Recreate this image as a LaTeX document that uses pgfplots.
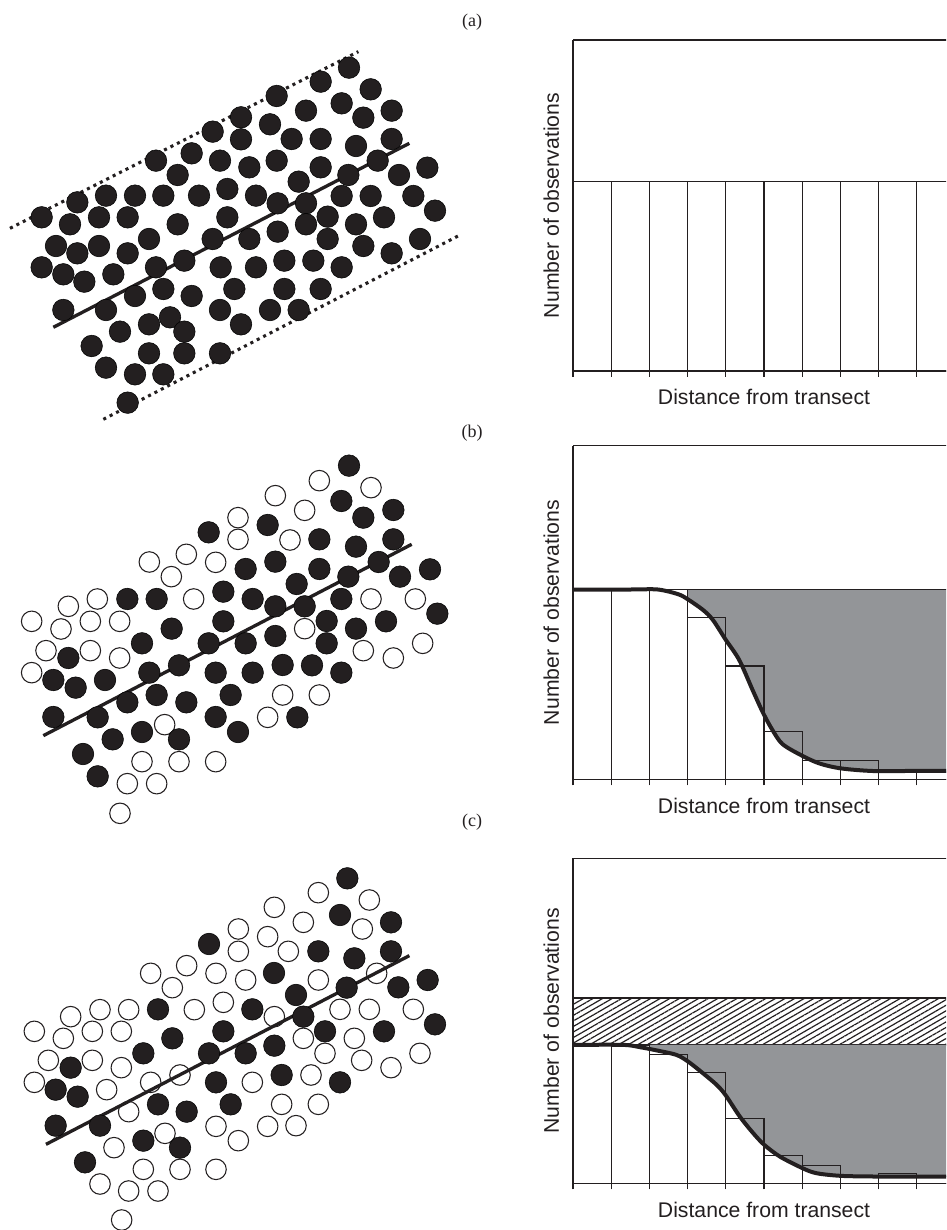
\documentclass[border=0pt]{standalone}
\usepackage{fontspec}
\setmainfont{Liberation Serif}
\newfontfamily\sansf{Liberation Sans}
\usepackage{pgfplots}
\usepackage{pgfplotstable}
\pgfplotsset{compat=1.18}
\usetikzlibrary{patterns.meta}
\definecolor{dotblack}{RGB}{35,31,32}
\definecolor{shade}{RGB}{147,149,152}

% panel (a): all detected animals (coordinates in a 3x grid of the panel region)
\pgfplotstableread{
x y
1047 83
962 125
1112 148
830 168
918 212
1025 190
1090 233
1175 212
723 232
810 253
638 275
723 298
875 297
962 297
1068 318
1175 297
575 340
468 362
660 362
748 382
830 362
962 382
1133 362
1282 383
533 405
896 425
1045 405
1197 405
232 487
318 467
405 467
490 467
597 467
682 447
768 467
833 490
918 490
1025 468
1112 468
1240 468
125 532
210 553
297 532
383 532
533 553
682 532
918 553
983 530
1068 553
1152 532
1305 512
168 618
232 640
297 618
383 640
447 597
638 597
748 597
833 575
983 597
1090 618
1175 640
1260 597
125 682
190 703
253 725
340 703
468 682
553 662
662 682
768 682
853 662
940 662
1025 682
405 768
490 747
575 768
703 747
853 747
962 747
190 810
318 810
660 810
810 810
896 810
510 832
447 853
360 875
553 875
723 853
275 918
447 940
553 940
660 940
318 983
405 1003
490 1003
383 1088
}\Afill

% panel (b)
\pgfplotstableread{
x y
1047 47
1024 153
1090 203
1180 180
803 225
626 247
958 268
1068 290
1180 268
737 357
826 335
958 357
1136 336
1290 358
890 402
1045 380
1200 380
382 447
470 447
670 425
758 447
826 469
914 469
1024 447
515 536
670 514
980 513
1068 536
1158 514
1312 491
205 624
426 580
626 580
737 580
826 558
980 580
160 690
227 713
315 690
448 668
537 646
647 668
758 668
848 645
936 646
1024 668
382 757
470 735
559 757
692 735
160 801
293 802
647 801
892 802
426 846
338 868
537 868
714 846
249 912
293 979
}\Bfill
\pgfplotstableread{
x y
958 92
1113 113
826 137
914 181
714 203
714 268
870 270
559 313
448 336
647 337
514 380
205 469
292 447
581 447
1113 447
1246 447
95 514
183 537
271 514
359 514
914 536
138 602
271 602
359 624
1090 602
1180 624
1268 580
95 668
848 735
958 735
803 802
494 824
426 935
537 935
647 935
382 1001
470 1001
360 1090
}\Bopen

% panel (c)
\pgfplotstableread{
x y
1042 70
1020 180
1173 202
627 267
955 289
1063 310
1173 289
822 354
1283 375
888 420
1040 398
1195 397
474 463
757 463
910 485
517 550
670 529
975 529
1152 529
1305 508
212 638
430 595
627 595
737 595
823 572
167 704
233 725
648 682
845 660
1020 682
474 748
560 770
692 748
167 812
300 812
430 857
540 878
255 922
}\Cfill
\pgfplotstableread{
x y
955 113
1108 135
823 157
910 202
1087 222
715 222
803 245
715 289
865 289
560 332
452 355
648 355
737 375
955 375
1130 355
517 398
212 485
300 464
386 464
583 464
670 442
823 485
1020 463
1108 463
1240 463
103 529
190 550
277 529
364 529
910 550
1063 550
145 616
277 616
364 638
975 595
1085 616
1173 638
1260 595
103 682
320 704
452 682
540 660
757 682
933 660
386 770
845 748
955 748
648 814
803 814
888 812
495 835
342 878
715 857
430 943
540 943
648 943
300 987
386 1008
474 1008
365 1095
}\Copen

\pgfplotsset{
  scat/.style={scale only axis, width=352.5pt, xmin=0, xmax=1410, ymin=0,
    y dir=reverse, axis lines=none, clip=false, anchor=north west},
  fdot/.style={only marks, mark=*, mark size=8.1pt, mark options={draw=none, fill=dotblack}},
  odot/.style={only marks, mark=o, mark size=7.7pt, mark options={draw=dotblack, line width=0.8pt}},
  hist/.style={scale only axis, width=286.5pt, anchor=south west,
    xmin=0, xmax=10, ymin=0, ymax=100,
    axis x line=bottom, axis y line=left,
    axis line style={-, line width=0.9pt, dotblack},
    xtick={0,1,...,10}, xticklabels={}, ytick=\empty, yticklabels={},
    tick align=outside, major tick length=4.5pt,
    tick style={dotblack, line width=0.9pt},
    xlabel={Distance from transect}, ylabel={Number of observations},
    label style={font=\sansf\fontsize{15.9pt}{19pt}\selectfont, text=dotblack},
    xlabel style={at={(axis description cs:0.5,0)}, anchor=base, yshift=-25.5pt},
    ylabel style={at={(axis description cs:-0.0367,0.5)}, anchor=base},
    clip=false},
  thin line/.style={dotblack, line width=0.9pt},
}

\begin{document}
\begin{tikzpicture}
\useasboundingbox (0pt,0pt) rectangle (709.5pt,922.5pt);
\clip (0pt,0pt) rectangle (709.5pt,922.5pt);

% ---------- scatter panels ----------
\begin{axis}[scat, at={(0pt,892.5pt)}, height=292.5pt, ymax=1170]
\addplot[fdot] table {\Afill};
\addplot[dotblack, line width=2.3pt, dash pattern=on 2.3pt off 3.1pt] coordinates {(30,565) (1075,35)};
\addplot[dotblack, line width=2.3pt, dash pattern=on 2.3pt off 3.1pt] coordinates {(310,1138) (1380,585)};
\addplot[dotblack, line width=2.5pt] coordinates {(160,862) (1228,310)};
\end{axis}

\begin{axis}[scat, at={(0pt,585pt)}, height=285pt, ymax=1140]
\addplot[odot] table {\Bopen};
\addplot[fdot] table {\Bfill};
\addplot[dotblack, line width=2.5pt] coordinates {(130,857) (1235,283)};
\end{axis}

\begin{axis}[scat, at={(0pt,281.25pt)}, height=281.25pt, ymax=1125]
\addplot[odot] table {\Copen};
\addplot[fdot] table {\Cfill};
\addplot[dotblack, line width=2.5pt] coordinates {(138,868) (1228,302)};
\end{axis}

% ---------- histogram (a) ----------
\begin{axis}[hist, at={(429.75pt,644.25pt)}, height=248.25pt]
\addplot[ybar interval, draw=dotblack, fill=white, line width=0.9pt] coordinates
  {(0,57.2)(1,57.2)(2,57.2)(3,57.2)(4,57.2)(5,57.2)(6,57.2)(7,57.2)(8,57.2)(9,57.2)(10,57.2)};
\addplot[thin line] coordinates {(0,100)(10,100)};
\end{axis}

% ---------- histogram (b) ----------
\begin{axis}[hist, at={(429.75pt,338pt)}, height=250.2pt]
\addplot[fill=shade, draw=none] coordinates {(3,56.9)(10,56.9)(10,2.5)(8.8,2.5)(7.83,2.5)(7.0,3.3)(6.44,4.8)(5.96,7.3)(5.48,10.6)(5.22,14.8)(4.98,19.8)(4.70,26.8)(4.35,35.8)(4.0,41.8)(3.66,47.8)(3.40,50.8)(3.0,54.0)(3,56.9)};
\addplot[ybar interval, draw=dotblack, fill=none, line width=0.9pt] coordinates
  {(0,56.9)(1,56.9)(2,56.9)(3,48.5)(4,34.0)(5,14.3)(6,5.6)(7,5.6)(8,2.2)(9,2.2)(10,2.2)};
\addplot[thin line] coordinates {(0,56.9)(10,56.9)};
\addplot[dotblack, line width=3pt, smooth, tension=0.5] coordinates {(0,56.9)(1.5,56.9)(2.22,56.9)(2.75,55.5)(3.0,54.0)(3.40,50.8)(3.66,47.8)(4.0,41.8)(4.35,35.8)(4.70,26.8)(4.98,19.8)(5.22,14.8)(5.48,10.6)(5.96,7.3)(6.44,4.8)(7.0,3.3)(7.83,2.5)(8.8,2.5)(10,2.5)};
\addplot[thin line] coordinates {(0,100)(10,100)};
\end{axis}

% ---------- histogram (c) ----------
\begin{axis}[hist, at={(429.75pt,35pt)}, height=243.75pt]
\addplot[pattern={Lines[angle=30,distance=3.6pt,line width=0.9pt]}, pattern color=dotblack, draw=dotblack, line width=1.2pt] coordinates {(0,42.6)(10,42.6)(10,57.1)(0,57.1)(0,42.6)};
\addplot[fill=shade, draw=none] coordinates {(2,42.6)(10,42.6)(10,2.1)(8.8,2.1)(7.87,2.1)(7.01,2.3)(6.38,3.1)(6.02,4.6)(5.42,8.2)(5.01,11.8)(4.72,15.4)(4.37,20.5)(3.99,27.2)(3.76,30.3)(3.41,33.8)(3.02,37.4)(2.71,39.5)(2.19,40.9)(2.0,41.3)(2,42.6)};
\addplot[ybar interval, draw=dotblack, fill=none, line width=0.9pt] coordinates
  {(0,42.6)(1,42.6)(2,39.7)(3,34.0)(4,20.0)(5,8.5)(6,5.4)(7,2.2)(8,3.1)(9,2.2)(10,2.2)};
\addplot[dotblack, line width=3pt, smooth, tension=0.5] coordinates {(0,42.6)(1.31,42.6)(1.75,41.9)(2.19,40.9)(2.71,39.5)(3.02,37.4)(3.41,33.8)(3.76,30.3)(3.99,27.2)(4.37,20.5)(4.72,15.4)(5.01,11.8)(5.42,8.2)(6.02,4.6)(6.38,3.1)(7.01,2.3)(7.87,2.1)(8.8,2.1)(10,2.1)};
\addplot[thin line] coordinates {(0,100)(10,100)};
\end{axis}

% ---------- panel letters ----------
\node[font=\fontsize{13.5pt}{16pt}\selectfont, text=dotblack] at (354pt,906pt) {(a)};
\node[font=\fontsize{13.5pt}{16pt}\selectfont, text=dotblack] at (354pt,597.75pt) {(b)};
\node[font=\fontsize{13.5pt}{16pt}\selectfont, text=dotblack] at (354pt,306pt) {(c)};
\end{tikzpicture}
\end{document}
